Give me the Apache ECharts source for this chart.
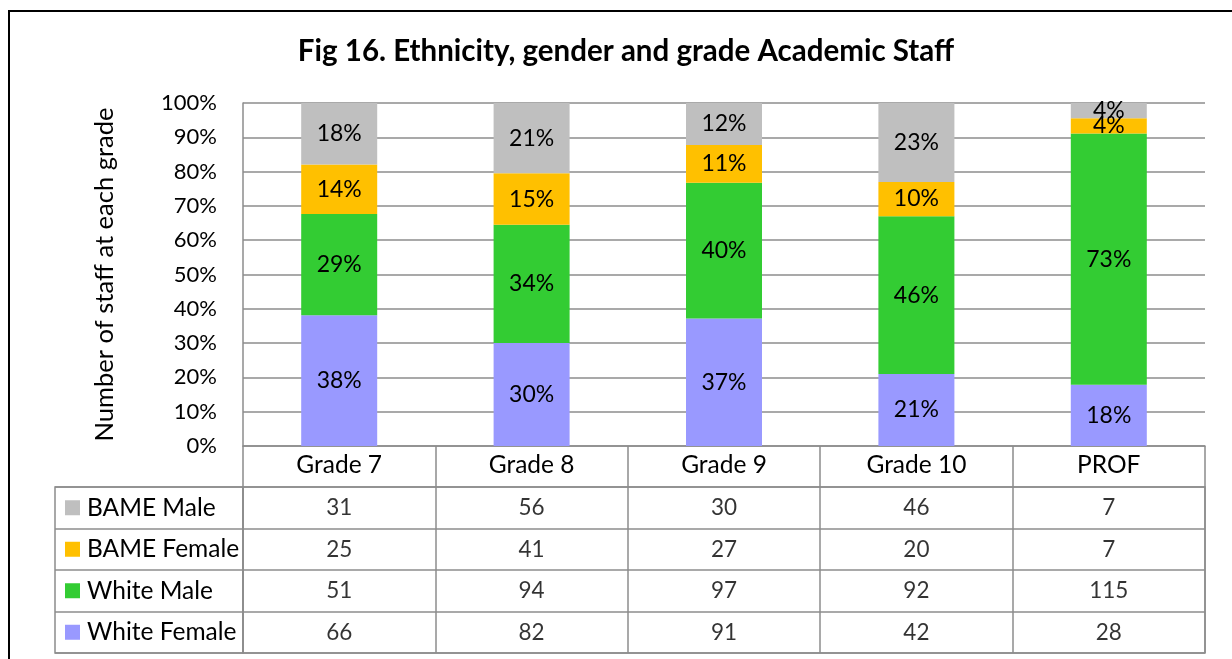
<!DOCTYPE html>
<html><head><meta charset="utf-8">
<script src="https://cdn.jsdelivr.net/npm/echarts@6/dist/echarts.min.js"></script>
<style>html,body{margin:0;padding:0;background:#fff}#c{width:1232px;height:659px}</style>
</head><body><div id="c"></div>
<script>
const categories = ['Grade 7', 'Grade 8', 'Grade 9', 'Grade 10', 'PROF'];
const whiteFemale = [66, 82, 91, 42, 28];
const whiteMale = [51, 94, 97, 92, 115];
const bameFemale = [25, 41, 27, 20, 7];
const bameMale = [31, 56, 30, 46, 7];
const seriesNames = ['White Female', 'White Male', 'BAME Female', 'BAME Male'];
const seriesColors = ['#9999FF', '#33CC33', '#FFC000', '#BFBFBF'];
const tableRows = ['BAME Male', 'BAME Female', 'White Male', 'White Female'];
const titleText = 'Fig 16. Ethnicity, gender and grade Academic Staff';
const yAxisTitle = 'Number of staff at each grade';

const FONT = 'Lato';
const GRID_COLOR = '#8c8c8c';
const counts = [whiteFemale, whiteMale, bameFemale, bameMale];
const totals = categories.map((_, i) => counts.reduce((s, a) => s + a[i], 0));
const pct = counts.map(a => a.map((v, i) => v / totals[i] * 100));

const barSeries = seriesNames.map((name, k) => ({
  name, type: 'bar', stack: 'all', xAxisIndex: 0, yAxisIndex: 0,
  barWidth: 76, data: pct[k],
  itemStyle: { color: seriesColors[k] },
  label: { show: true, position: 'inside', color: '#000', fontFamily: FONT, fontSize: 23,
    formatter: p => Math.round(p.value) + '%' }
}));

const rowData = { 'BAME Male': bameMale, 'BAME Female': bameFemale, 'White Male': whiteMale, 'White Female': whiteFemale };
const cellData = [];
tableRows.forEach((r, ri) => rowData[r].forEach((v, ci) => cellData.push([ci, ri, v])));
const colorOf = {}; seriesNames.forEach((n, k) => colorOf[n] = seriesColors[k]);
const rich = { t: { fontFamily: FONT, fontSize: 24.5, color: '#000', padding: [0, 0, 0, 7] } };
tableRows.forEach((r, i) => rich['s' + i] = { width: 15, height: 15, backgroundColor: colorOf[r] });

const option = {
  animation: false,
  title: { text: titleText, left: 621, top: 31, textAlign: 'center',
    textStyle: { fontFamily: FONT, fontWeight: 'bold', fontSize: 29.5, color: '#000' } },
  graphic: [{ type: 'rect', shape: { x: 9, y: 11, width: 1260, height: 700 },
    style: { fill: 'none', stroke: '#000', lineWidth: 2 }, silent: true }],
  grid: [
    { left: 243, right: 27, top: 103, bottom: 213 },
    { left: 243, right: 27, top: 487, bottom: 6, show: true, borderColor: GRID_COLOR, borderWidth: 1.5 },
    { left: 55, width: 188, top: 487, bottom: 6, show: true, borderColor: GRID_COLOR, borderWidth: 1.5 }
  ],
  xAxis: [
    { gridIndex: 0, type: 'category', data: categories, boundaryGap: true,
      axisLine: { show: true, lineStyle: { color: GRID_COLOR, width: 1.5 } },
      axisTick: { show: true, length: 41, interval: 0, lineStyle: { color: GRID_COLOR, width: 1.5 } },
      axisLabel: { fontFamily: FONT, fontSize: 24.5, color: '#000', margin: 7 } },
    { gridIndex: 1, type: 'category', data: categories, boundaryGap: true,
      axisLine: { show: false }, axisTick: { show: false }, axisLabel: { show: false },
      splitLine: { show: true, interval: 0, lineStyle: { color: GRID_COLOR, width: 1.5 } } },
    { gridIndex: 2, type: 'value', min: 0, max: 1, show: false }
  ],
  yAxis: [
    { gridIndex: 0, type: 'value', min: 0, max: 100, interval: 10,
      name: yAxisTitle, nameLocation: 'middle', nameGap: 125,
      nameTextStyle: { fontFamily: FONT, fontSize: 25.5, color: '#000' },
      axisLine: { show: true, lineStyle: { color: GRID_COLOR, width: 1.5 } },
      axisTick: { show: false },
      axisLabel: { fontFamily: FONT, fontSize: 22, color: '#000', margin: 26, formatter: v => v + '%' },
      splitLine: { show: true, lineStyle: { color: GRID_COLOR, width: 1.5 } } },
    { gridIndex: 1, type: 'category', data: tableRows, inverse: true,
      axisLine: { show: false }, axisTick: { show: false }, axisLabel: { show: false },
      splitLine: { show: true, interval: 0, lineStyle: { color: GRID_COLOR, width: 1.5 } } },
    { gridIndex: 2, type: 'category', data: tableRows, inverse: true,
      axisLine: { show: false }, axisTick: { show: false },
      axisLabel: { inside: true, margin: 10, interval: 0,
        formatter: (v, i) => '{s' + i + '|}{t|' + v + '}', rich },
      splitLine: { show: true, interval: 0, lineStyle: { color: GRID_COLOR, width: 1.5 } } }
  ],
  series: barSeries.concat([{
    type: 'scatter', xAxisIndex: 1, yAxisIndex: 1, symbolSize: 1,
    itemStyle: { color: 'rgba(0,0,0,0)' }, data: cellData,
    label: { show: true, position: 'inside', color: '#000', fontFamily: FONT, fontSize: 22.5,
      formatter: p => String(p.value[2]) }
  }])
};
const chart = echarts.init(document.getElementById('c'));
chart.setOption(option);
</script></body></html>
